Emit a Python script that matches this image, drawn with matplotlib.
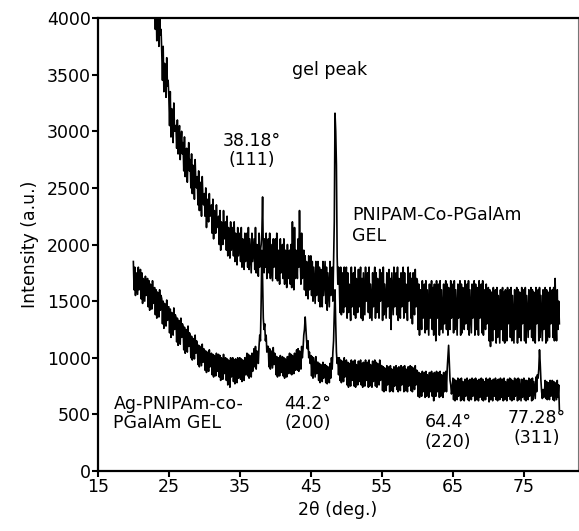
import numpy as np
import matplotlib.pyplot as plt

# PNIPAM-Co-PGalAm GEL, 2theta 22.0 .. 80.0 every 0.1 deg (one row per degree)
gel_start = 22.0
gel_int = [
    4650, 4200, 4500, 4350, 4100, 4550, 4250, 4400, 4050, 4300,
    4150, 3900, 4200, 3800, 4050, 3950, 3750, 4100, 3850, 3900,
    3700, 3450, 3750, 3350, 3600, 3500, 3300, 3650, 3400, 3450,
    3300, 3050, 3350, 2950, 3200, 3100, 2900, 3250, 3000, 3050,
    3050, 2850, 3100, 2800, 2950, 3050, 2750, 2900, 3000, 2800,
    2900, 2650, 2950, 2600, 2800, 2850, 2550, 2750, 2900, 2650,
    2750, 2500, 2800, 2450, 2700, 2600, 2400, 2750, 2550, 2500,
    2600, 2350, 2650, 2300, 2550, 2450, 2250, 2600, 2400, 2350,
    2450, 2250, 2500, 2150, 2400, 2350, 2200, 2450, 2250, 2300,
    2350, 2100, 2400, 2050, 2300, 2250, 2100, 2350, 2150, 2200,
    2250, 2000, 2300, 1950, 2200, 2150, 2000, 2300, 2050, 2100,
    2200, 1950, 2250, 1900, 2150, 2050, 1880, 2200, 1950, 2050,
    2150, 1900, 2200, 1850, 2100, 2000, 1820, 2150, 1900, 2000,
    2100, 1850, 2150, 1800, 2050, 1950, 1780, 2100, 1850, 1950,
    2100, 1800, 2150, 1780, 2050, 1900, 1750, 2100, 1850, 1950,
    2050, 1780, 2150, 1750, 2000, 1900, 1720, 2100, 1800, 1950,
    2000, 2100, 2420, 1950, 1750, 2050, 1800, 2100, 1700, 1950,
    2050, 1750, 2100, 1700, 2000, 1850, 1680, 2050, 1800, 1900,
    2050, 1700, 2100, 1680, 1950, 1850, 1650, 2050, 1750, 1900,
    2000, 1700, 2050, 1650, 1950, 1800, 1620, 2000, 1700, 1850,
    1950, 1650, 2000, 1620, 2200, 1750, 1600, 2150, 1700, 1950,
    1850, 1700, 2050, 1800, 2300, 1900, 1650, 2100, 1700, 1850,
    1950, 1600, 1900, 1550, 1850, 1700, 1520, 1900, 1600, 1800,
    1900, 1550, 1850, 1500, 1800, 1650, 1480, 1850, 1550, 1750,
    1850, 1500, 1800, 1450, 1780, 1650, 1450, 1850, 1550, 1700,
    1850, 1480, 1800, 1420, 1750, 1600, 1450, 1850, 1550, 1700,
    1800, 1500, 1850, 2200, 3160, 3000, 2700, 1900, 1650, 1800,
    1700, 1400, 1800, 1380, 1750, 1550, 1400, 1800, 1450, 1700,
    1800, 1350, 1750, 1400, 1650, 1550, 1330, 1800, 1450, 1700,
    1750, 1380, 1800, 1350, 1700, 1500, 1400, 1780, 1450, 1650,
    1800, 1350, 1700, 1330, 1750, 1550, 1380, 1800, 1500, 1650,
    1750, 1400, 1800, 1350, 1650, 1500, 1330, 1750, 1450, 1700,
    1800, 1350, 1750, 1400, 1700, 1550, 1350, 1780, 1500, 1650,
    1750, 1330, 1800, 1380, 1650, 1500, 1350, 1750, 1450, 1700,
    1780, 1350, 1700, 1250, 1750, 1550, 1380, 1800, 1450, 1650,
    1750, 1380, 1800, 1330, 1700, 1500, 1350, 1750, 1450, 1700,
    1800, 1350, 1750, 1400, 1650, 1550, 1330, 1800, 1500, 1650,
    1750, 1350, 1700, 1300, 1750, 1500, 1380, 1780, 1450, 1700,
    1680, 1250, 1650, 1200, 1600, 1450, 1250, 1680, 1350, 1600,
    1650, 1220, 1680, 1250, 1600, 1400, 1200, 1650, 1350, 1550,
    1680, 1250, 1620, 1200, 1650, 1450, 1150, 1680, 1350, 1600,
    1650, 1200, 1680, 1250, 1600, 1400, 1220, 1650, 1300, 1600,
    1680, 1250, 1650, 1200, 1620, 1450, 1250, 1680, 1350, 1550,
    1650, 1220, 1680, 1250, 1600, 1400, 1200, 1650, 1350, 1600,
    1680, 1200, 1650, 1220, 1620, 1450, 1250, 1680, 1300, 1600,
    1650, 1250, 1680, 1200, 1600, 1400, 1220, 1650, 1350, 1550,
    1680, 1200, 1650, 1250, 1620, 1450, 1200, 1680, 1350, 1600,
    1650, 1220, 1680, 1200, 1600, 1400, 1250, 1650, 1300, 1600,
    1620, 1150, 1600, 1100, 1580, 1400, 1150, 1620, 1250, 1550,
    1600, 1130, 1620, 1180, 1550, 1350, 1130, 1600, 1250, 1550,
    1620, 1150, 1580, 1130, 1600, 1400, 1150, 1620, 1300, 1550,
    1600, 1180, 1620, 1150, 1550, 1350, 1130, 1600, 1250, 1550,
    1620, 1130, 1600, 1180, 1580, 1400, 1150, 1620, 1300, 1550,
    1600, 1150, 1620, 1130, 1550, 1350, 1180, 1600, 1250, 1550,
    1620, 1180, 1600, 1150, 1580, 1400, 1130, 1620, 1300, 1550,
    1600, 1150, 1620, 1180, 1550, 1350, 1150, 1600, 1250, 1550,
    1620, 1130, 1600, 1150, 1580, 1400, 1180, 1620, 1300, 1550,
    1600, 1180, 1620, 1150, 1700, 1350, 1150, 1600, 1250, 1500,
    1300,
]

# Ag-PNIPAm-co-PGalAm GEL, 2theta 20.0 .. 80.0 every 0.1 deg (one row per degree)
ag_start = 20.0
ag_int = [
    1850, 1600, 1800, 1550, 1750, 1650, 1560, 1800, 1600, 1700,
    1780, 1520, 1750, 1480, 1700, 1600, 1500, 1720, 1550, 1650,
    1700, 1450, 1680, 1420, 1650, 1550, 1430, 1680, 1480, 1600,
    1620, 1380, 1600, 1350, 1580, 1480, 1360, 1600, 1420, 1550,
    1520, 1300, 1500, 1260, 1480, 1400, 1280, 1510, 1330, 1450,
    1450, 1220, 1430, 1180, 1400, 1320, 1200, 1440, 1250, 1380,
    1360, 1140, 1350, 1110, 1330, 1250, 1120, 1350, 1180, 1300,
    1280, 1070, 1270, 1040, 1250, 1160, 1050, 1280, 1100, 1220,
    1200, 1000, 1190, 980, 1170, 1100, 990, 1200, 1040, 1150,
    1120, 940, 1110, 920, 1100, 1020, 930, 1120, 960, 1080,
    1070, 890, 1060, 870, 1050, 980, 880, 1070, 920, 1020,
    1040, 850, 1030, 830, 1020, 950, 840, 1040, 880, 990,
    1030, 830, 1020, 800, 1000, 930, 810, 1030, 860, 980,
    1000, 800, 990, 760, 980, 900, 740, 1000, 830, 950,
    1000, 790, 980, 770, 990, 900, 780, 1000, 820, 960,
    1000, 810, 990, 790, 980, 920, 800, 1000, 850, 970,
    1040, 840, 1030, 820, 1020, 950, 830, 1040, 880, 1000,
    1080, 920, 1100, 900, 1060, 1000, 950, 1100, 1200, 1150,
    1500, 1950, 1700, 1350, 1250, 1300, 1150, 1200, 1050, 1100,
    1100, 920, 1080, 900, 1060, 980, 910, 1090, 940, 1040,
    1020, 850, 1010, 830, 1000, 930, 840, 1020, 870, 980,
    1010, 840, 1000, 820, 990, 920, 830, 1010, 860, 970,
    1040, 860, 1030, 850, 1020, 950, 860, 1040, 890, 1000,
    1070, 890, 1080, 880, 1060, 1000, 900, 1100, 1000, 1080,
    1200, 1250, 1360, 1250, 1150, 1080, 1150, 1000, 1050, 950,
    1020, 840, 1010, 820, 1000, 920, 830, 1010, 860, 960,
    960, 800, 950, 780, 940, 880, 790, 960, 820, 920,
    940, 780, 930, 770, 920, 860, 780, 950, 820, 1000,
    900, 1050, 1150, 1400, 1600, 1300, 1050, 950, 1000, 850,
    1000, 800, 980, 780, 970, 900, 790, 1000, 830, 950,
    980, 760, 960, 740, 950, 870, 750, 980, 800, 930,
    970, 750, 980, 740, 940, 860, 760, 970, 790, 920,
    980, 760, 950, 740, 960, 870, 750, 980, 800, 930,
    960, 740, 980, 750, 940, 860, 740, 970, 790, 920,
    980, 750, 960, 740, 950, 870, 760, 980, 800, 930,
    930, 710, 920, 700, 910, 830, 710, 930, 760, 890,
    920, 700, 930, 710, 900, 820, 700, 920, 750, 880,
    930, 720, 910, 700, 920, 830, 710, 930, 760, 890,
    920, 700, 930, 710, 900, 820, 700, 920, 750, 880,
    930, 710, 920, 700, 910, 830, 720, 930, 760, 890,
    880, 660, 870, 650, 860, 780, 660, 880, 700, 840,
    870, 650, 880, 660, 850, 770, 650, 870, 700, 830,
    880, 660, 860, 620, 870, 780, 660, 880, 700, 840,
    870, 650, 880, 660, 850, 770, 650, 870, 700, 830,
    880, 700, 900, 1000, 1110, 950, 800, 760, 680, 720,
    820, 630, 810, 620, 800, 730, 630, 820, 660, 780,
    810, 620, 820, 630, 790, 720, 620, 810, 660, 770,
    820, 630, 800, 620, 810, 730, 630, 820, 660, 780,
    810, 620, 820, 630, 800, 720, 620, 810, 650, 770,
    820, 630, 810, 620, 790, 730, 630, 820, 660, 780,
    810, 610, 820, 630, 800, 720, 620, 810, 660, 770,
    820, 630, 800, 620, 810, 730, 630, 820, 650, 780,
    810, 620, 820, 630, 790, 720, 620, 810, 660, 770,
    820, 630, 810, 620, 800, 730, 630, 820, 660, 780,
    810, 620, 820, 630, 810, 720, 620, 810, 650, 770,
    820, 630, 800, 620, 800, 730, 630, 820, 660, 780,
    810, 620, 820, 630, 790, 720, 640, 830, 700, 850,
    820, 900, 1070, 950, 800, 700, 640, 720, 650, 700,
    800, 640, 790, 630, 780, 720, 630, 800, 660, 760,
    800, 630, 790, 620, 780, 710, 630, 800, 650, 760,
    540,
]

step = 0.1
gel_x = gel_start + step * np.arange(len(gel_int))
ag_x = ag_start + step * np.arange(len(ag_int))

plt.rcParams['font.family'] = 'DejaVu Sans'
fs = 12.5

fig = plt.figure(figsize=(5.79, 5.31), dpi=100)
ax = fig.add_axes([0.169, 0.113, 0.829, 0.853])

ax.plot(gel_x, gel_int, color='black', lw=1.2)
ax.plot(ag_x, ag_int, color='black', lw=1.2)

ax.set_xlim(15, 82.6)
ax.set_ylim(0, 4000)
ax.set_xticks(np.arange(15, 80, 10))
ax.set_yticks(np.arange(0, 4001, 500))
ax.tick_params(labelsize=fs, width=1.5, length=4, pad=1)

for s in ['left', 'bottom', 'top']:
    ax.spines[s].set_linewidth(1.6)
ax.spines['right'].set_linewidth(0.8)
ax.spines['right'].set_color('#777777')

ax.set_xlabel('2θ (deg.)', fontsize=fs, labelpad=4)
ax.set_ylabel('Intensity (a.u.)', fontsize=fs, labelpad=6)

# annotations
ax.text(47.7, 3540, 'gel peak', fontsize=fs, ha='center', va='center')
ax.text(36.7, 2830, '38.18°\n(111)', fontsize=fs, ha='center', va='center', linespacing=1.1)
ax.text(50.8, 2165, 'PNIPAM-Co-PGalAm\nGEL', fontsize=fs, ha='left', va='center', linespacing=1.2)
ax.text(17.2, 508, 'Ag-PNIPAm-co-\nPGalAm GEL', fontsize=fs, ha='left', va='center', linespacing=1.1)
ax.text(44.6, 508, '44.2°\n(200)', fontsize=fs, ha='center', va='center', linespacing=1.1)
ax.text(64.3, 345, '64.4°\n(220)', fontsize=fs, ha='center', va='center', linespacing=1.1)
ax.text(76.8, 380, '77.28°\n(311)', fontsize=fs, ha='center', va='center', linespacing=1.1)

fig.savefig('out.png', dpi=100)
